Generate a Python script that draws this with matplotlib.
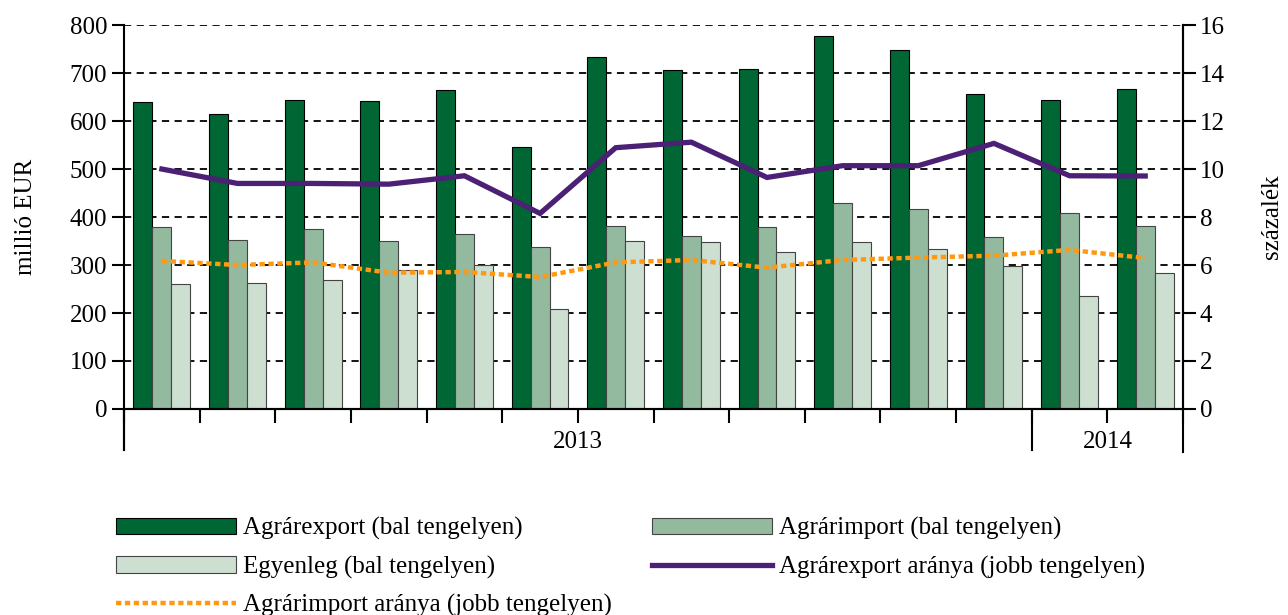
import numpy as np
import matplotlib.pyplot as plt
from matplotlib.patches import Patch
from matplotlib.lines import Line2D

plt.rcParams['font.family'] = ['Liberation Serif', 'DejaVu Serif']

# monthly data, 2013 Jan - 2014 Feb
export = [640, 615, 644, 642, 664, 545, 733, 706, 708, 778, 749, 656, 644, 666]
imports = [379, 352, 376, 351, 364, 338, 382, 360, 380, 430, 416, 359, 409, 382]
balance = [261, 263, 268, 290, 299, 208, 351, 347, 328, 347, 334, 298, 236, 284]
export_share = [10.0, 9.4, 9.4, 9.37, 9.72, 8.15, 10.89, 11.12, 9.65, 10.14, 10.14, 11.07, 9.72, 9.71]
import_share = [6.17, 6.0, 6.11, 5.68, 5.71, 5.5, 6.11, 6.21, 5.89, 6.21, 6.31, 6.39, 6.63, 6.29]
years = ['2013', '2014']
months_per_year = [12, 2]

c_exp = '#006633'
c_imp = '#93BA9F'
c_bal = '#CCDFD0'
c_purple = '#4B2075'
c_orange = '#FF9912'
fs = 18

fig = plt.figure(figsize=(12.88, 6.15), dpi=100)
ax = fig.add_axes([0.0963, 0.335, 0.8222, 0.6242])
ax2 = ax.twinx()

n = len(export)
x = np.arange(n)
w = 0.25
ax.bar(x - w, export, w, color=c_exp, edgecolor='black', linewidth=0.8, zorder=2)
ax.bar(x, imports, w, color=c_imp, edgecolor='#444444', linewidth=0.8, zorder=2)
ax.bar(x + w, balance, w, color=c_bal, edgecolor='#444444', linewidth=0.8, zorder=2)

ax.set_ylim(0, 800)
ax.set_xlim(-0.5, n - 0.5)
ax.set_yticks(np.arange(0, 801, 100))
for yv in np.arange(100, 801, 100):
    ax.axhline(yv, color='black', lw=1.3, ls=(0, (4, 3)), zorder=1)

ax2.plot(x, export_share, color=c_purple, lw=3.8, zorder=5, solid_joinstyle='miter')
ax2.plot(x, import_share, color=c_orange, lw=3.2, ls=(0, (1.2, 0.8)), zorder=5)
ax2.set_ylim(0, 16)
ax2.set_yticks(np.arange(0, 17, 2))

# x axis: ticks at month boundaries
ax.set_xticks(np.arange(-0.5, n, 1.0))
ax.set_xticklabels([])
ax.tick_params(axis='x', length=10, width=1.5, direction='out')
ax.tick_params(axis='y', length=9, width=1.5, direction='out', labelsize=fs, pad=3)
ax2.tick_params(axis='y', length=9, width=1.5, direction='out', labelsize=fs, pad=3)

for a in (ax, ax2):
    a.spines['top'].set_visible(False)
for s in ('left', 'right', 'bottom'):
    ax.spines[s].set_linewidth(1.5)
    ax2.spines[s].set_linewidth(1.5)
ax.spines['left'].set_bounds(-85, 800)
ax2.spines['right'].set_bounds(-1.8, 16)
ax2.spines['left'].set_visible(False)

# year separators and labels
start = -0.5
for yr, m in zip(years, months_per_year):
    ax.plot([start, start], [0, -85], color='black', lw=1.5, clip_on=False)
    ax.text(start + m / 2, -68, yr, ha='center', va='center', fontsize=fs)
    start += m

ax.set_ylabel('millió EUR', fontsize=fs, labelpad=24)
ax2.set_ylabel('százalék', fontsize=fs, labelpad=26)

handles = [
    Patch(facecolor=c_exp, edgecolor='black', linewidth=0.8),
    Patch(facecolor=c_bal, edgecolor='#444444', linewidth=0.8),
    Line2D([], [], color=c_orange, lw=3.2, ls=(0, (1.2, 0.8))),
    Patch(facecolor=c_imp, edgecolor='#444444', linewidth=0.8),
    Line2D([], [], color=c_purple, lw=3.8),
]
labels = [
    'Agrárexport (bal tengelyen)',
    'Egyenleg (bal tengelyen)',
    'Agrárimport aránya (jobb tengelyen)',
    'Agrárimport (bal tengelyen)',
    'Agrárexport aránya (jobb tengelyen)',
]
fig.legend(handles, labels, ncol=2, loc='upper left', bbox_to_anchor=(0.0807, 0.1796),
           frameon=False, fontsize=fs, handlelength=4.8, handleheight=0.65,
           handletextpad=0.28, columnspacing=1.6, labelspacing=0.62, borderpad=0)

fig.savefig('out.png', dpi=100)
